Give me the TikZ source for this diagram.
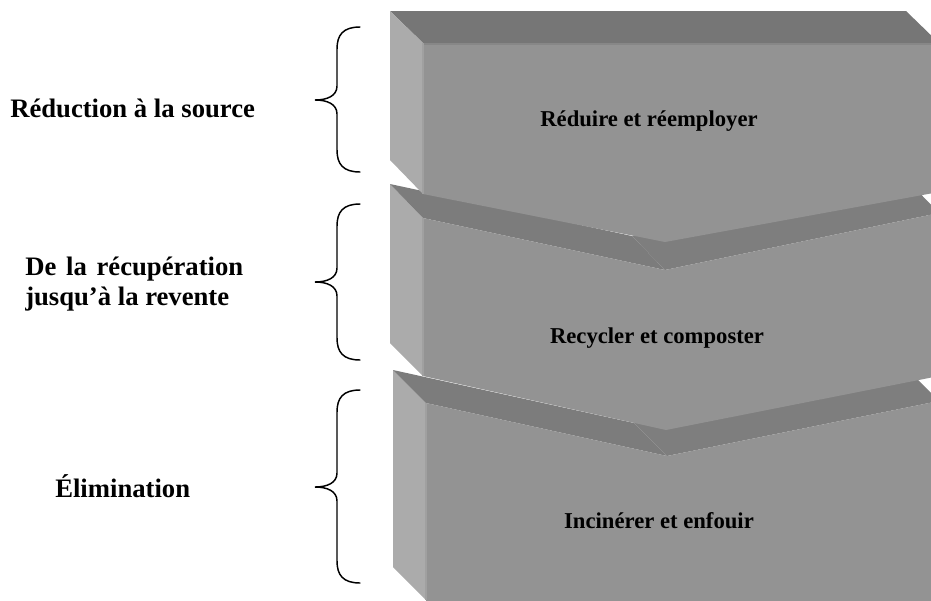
\documentclass[tikz,border=0pt]{standalone}
\usepackage{fontspec}
\setmainfont{Liberation Serif}
\definecolor{frontgray}{HTML}{939393}
\definecolor{leftgray}{HTML}{ABABAB}
\definecolor{topgray}{HTML}{767676}
\definecolor{bandL}{HTML}{7C7C7C}
\definecolor{bandR}{HTML}{7E7E7E}
\definecolor{edgegray}{HTML}{878787}
\definecolor{sidegl}{HTML}{A0A0A0}
\begin{document}
\begin{tikzpicture}[x=0.75pt,y=-0.75pt,
  boxlabel/.style={font=\fontsize{17}{20}\selectfont\bfseries, inner sep=0pt, anchor=base},
  sidelabel/.style={font=\fontsize{20}{23}\selectfont\bfseries, inner sep=0pt, anchor=base west},
  bracestyle/.style={draw=black, line width=1.1pt, line cap=round},
  faceleft/.style={fill=leftgray},
  facefront/.style={fill=frontgray},
  facetop/.style={fill=topgray}]
\useasboundingbox (0,0) rectangle (931,600);
\begin{scope}
\clip (0,0) rectangle (931,600);
% ---------- block 3 ----------
\fill[faceleft] (393,370) -- (426,403) -- (426,600) -- (393,567) -- cycle;
\fill[bandL] (393,370) -- (634,423) -- (667,456) -- (426,403) -- cycle;
\fill[bandR] (634,423) -- (906,368) -- (939,401) -- (667,456) -- cycle;
\fill[facefront] (426,403) -- (667,456) -- (939,401) -- (939,610) -- (426,610) -- cycle;
\draw[sidegl, line width=0.9pt] (426,403) -- (426,600);
% ---------- block 2 ----------
\fill[faceleft] (390,184) -- (423,218) -- (423,376) -- (390,343) -- cycle;
\fill[bandL] (390,184) -- (632,236) -- (665,270) -- (423,218) -- cycle;
\fill[bandR] (632,236) -- (906,179) -- (939,213) -- (665,270) -- cycle;
\fill[facefront] (423,218) -- (665,270) -- (939,213) -- (939,376) -- (666,430) -- (423,376) -- cycle;
\draw[sidegl, line width=0.9pt] (423,218) -- (423,376);
% ---------- block 1 ----------
\fill[facetop] (390,11) -- (906,11) -- (939,43) -- (423,43) -- cycle;
\fill[faceleft] (390,11) -- (423,43) -- (423,194) -- (390,160) -- cycle;
\fill[facefront] (423,43) -- (939,43) -- (939,192) -- (665,242) -- (423,194) -- cycle;
\draw[edgegray, line width=1.5pt] (423,44) -- (939,44);
\draw[sidegl, line width=0.9pt] (423,43) -- (423,194);
\end{scope}
% ---------- box labels ----------
\node[boxlabel] (t1) at (649,126) {Réduire et réemployer};
\node[boxlabel] (t2) at (657,343) {Recycler et composter};
\node[boxlabel] (t3) at (659,528) {Incinérer et enfouir};
% ---------- side labels ----------
\node[sidelabel] (s1) at (10,117) {Réduction à la source};
\node[sidelabel] (s2a) at (25,275) {\hbox to 163.5pt{De la récupération}};
\node[sidelabel] (s2b) at (25,305) {jusqu’à la revente};
\node[sidelabel] (s3) at (55,497) {Élimination};
% ---------- braces ----------
\draw[bracestyle] (360,27) .. controls (343,27) and (337,35) .. (337,49) -- (337,86)
  .. controls (337,96) and (327,100) .. (315,100)
  .. controls (327,100) and (337,104) .. (337,114) -- (337,150)
  .. controls (337,164) and (343,172) .. (360,172);
\draw[bracestyle] (360,204) .. controls (343,204) and (337,212) .. (337,226) -- (337,268)
  .. controls (337,278) and (327,282) .. (315,282)
  .. controls (327,282) and (337,286) .. (337,296) -- (337,338)
  .. controls (337,352) and (343,360) .. (360,360);
\draw[bracestyle] (360,390) .. controls (343,390) and (337,398) .. (337,412) -- (337,473)
  .. controls (337,483) and (327,487) .. (315,487)
  .. controls (327,487) and (337,491) .. (337,501) -- (337,561)
  .. controls (337,575) and (343,583) .. (360,583);
\end{tikzpicture}
\end{document}
